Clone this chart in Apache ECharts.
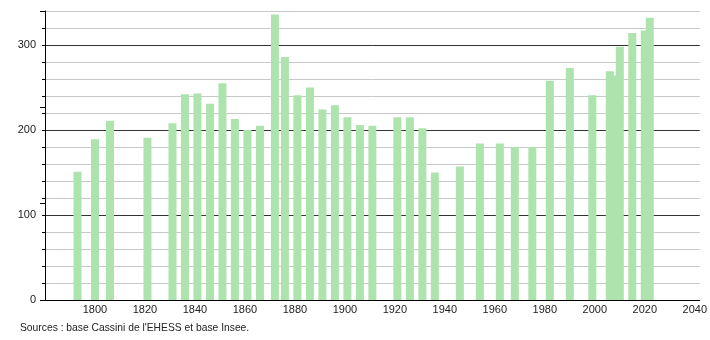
<!DOCTYPE html>
<html>
<head>
<meta charset="utf-8">
<script src="https://cdn.jsdelivr.net/npm/echarts@6/dist/echarts.min.js"></script>
<style>
html,body{margin:0;padding:0;background:#fff;}
#c{width:710px;height:340px;}
</style>
</head>
<body>
<div id="c"></div>
<script>
var years = [1793,1800,1806,1821,1831,1836,1841,1846,1851,1856,1861,1866,1872,1876,1881,1886,1891,1896,1901,1906,1911,1921,1926,1931,1936,1946,1954,1962,1968,1975,1982,1990,1999,2006,2008,2010,2015,2020,2022];
var population = [151,189,211,191,208,242,243,231,255,213,200,205,336,286,241,250,224,229,215,206,205,215,215,202,150,157,184,184,180,180,258,273,241,269,264,298,314,317,332];
var yTickLabels = [0,100,200,300];
var xTickLabels = [1800,1820,1840,1860,1880,1900,1920,1940,1960,1980,2000,2020,2040];
var sourceText = "Sources : base Cassini de l'EHESS et base Insee.";

var data = years.map(function(y,i){ return [y, population[i]]; });
var font = '"Liberation Sans", Arial, sans-serif';

var chart = echarts.init(document.getElementById('c'), null, {renderer:'canvas'});
chart.setOption({
  animation:false,
  backgroundColor:'#fff',
  grid:{left:45, right:10, top:11, bottom:40, containLabel:false},
  xAxis:{
    type:'value', min:1780, max:2042, interval:20,
    axisLine:{show:true, onZero:false, lineStyle:{color:'#000', width:1}},
    axisTick:{show:false},
    splitLine:{show:false},
    axisLabel:{
      show:true, margin:4, color:'#222', fontSize:11, fontFamily:font,
      showMinLabel:false, showMaxLabel:true,
      formatter:function(v){ return xTickLabels.indexOf(v) >= 0 ? String(v) : ''; }
    }
  },
  yAxis:[{
    type:'value', min:0, max:340, interval:20,
    axisLine:{show:true, lineStyle:{color:'#000', width:1}},
    axisTick:{show:true, length:3, lineStyle:{color:'#000'}},
    splitLine:{show:true, lineStyle:{color:['#333','#c8c8c8','#c8c8c8','#c8c8c8','#c8c8c8'], width:1}},
    axisLabel:{
      margin:9, color:'#222', fontSize:11, fontFamily:font,
      formatter:function(v){ return yTickLabels.indexOf(v) >= 0 ? String(v) : ''; }
    }
  },{
    type:'value', min:0, max:300, interval:100, position:'left',
    axisLine:{show:false},
    axisTick:{show:true, length:5, lineStyle:{color:'#000'}},
    splitLine:{show:false},
    axisLabel:{show:false}
  }],
  series:[{
    type:'bar', yAxisIndex:0, data:data, barWidth:8,
    itemStyle:{color:'#ade3ad'}
  }],
  graphic:[{
    type:'text', left:20, top:323,
    style:{text:sourceText, fill:'#222', font:'10.3px ' + font}
  }]
});
</script>
</body>
</html>
